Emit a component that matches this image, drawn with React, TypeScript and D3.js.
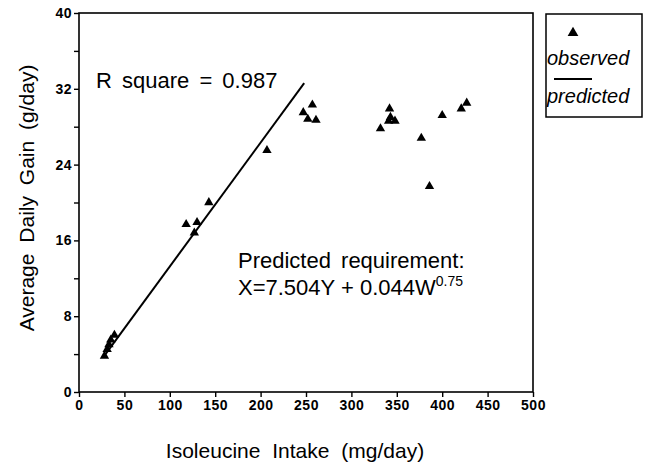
import { useEffect, useRef } from 'react';
import * as d3 from 'd3';

// observed points
const observedIntake = [28, 31, 33, 35, 39, 118, 127, 130, 143, 207, 247, 252, 257, 261, 332, 341, 343, 342, 348, 377, 386, 400, 421, 427];
const observedGain = [3.8, 4.5, 5.0, 5.5, 6.0, 17.7, 16.8, 17.9, 20.0, 25.5, 29.5, 28.8, 30.3, 28.7, 27.8, 28.6, 29.0, 29.9, 28.6, 26.8, 21.7, 29.2, 29.9, 30.5];

// fitted line end points
const predictedIntake = [27, 248];
const predictedGain = [3.7, 32.6];

const xTicks = [0, 50, 100, 150, 200, 250, 300, 350, 400, 450, 500];
const yTicks = [0, 4, 8, 12, 16, 20, 24, 28, 32, 36, 40];
const yLabelled = [0, 8, 16, 24, 32, 40];

function drawChart(node) {
  const width = 648;
  const height = 465;
  const left = 79, right = 533, top = 13, bottom = 392;
  const font = "'Liberation Sans', Arial, sans-serif";

  const x = d3.scaleLinear().domain([0, 500]).range([left, right]);
  const y = d3.scaleLinear().domain([0, 40]).range([bottom, top]);

  const svg = d3.select(node)
    .attr("width", width)
    .attr("height", height)
    .style("font-family", font);

  svg.selectAll("*").remove();

  svg.append("rect").attr("width", width).attr("height", height).attr("fill", "white");

  // frame
  svg.append("rect")
    .attr("x", left).attr("y", top)
    .attr("width", right - left).attr("height", bottom - top)
    .attr("fill", "none").attr("stroke", "black").attr("stroke-width", 1.6);

  const xAxis = svg.append("g")
    .attr("transform", `translate(0,${bottom})`)
    .call(d3.axisBottom(x).tickValues(xTicks).tickSize(5).tickPadding(3).tickFormat(d3.format("d")));
  xAxis.select(".domain").remove();
  xAxis.selectAll("line").attr("stroke-width", 1.4);
  xAxis.selectAll("text")
    .attr("font-size", 14).attr("font-weight", "bold").attr("font-family", font)
    .attr("letter-spacing", 0.5);

  const yAxis = svg.append("g")
    .attr("transform", `translate(${left},0)`)
    .call(d3.axisLeft(y).tickValues(yTicks).tickSize(5).tickPadding(2)
      .tickFormat(d => yLabelled.includes(d) ? String(d) : ""));
  yAxis.select(".domain").remove();
  yAxis.selectAll("line").attr("stroke-width", 1.4);
  yAxis.selectAll("text")
    .attr("font-size", 14).attr("font-weight", "bold").attr("font-family", font)
    .attr("letter-spacing", 0.5);

  // predicted line
  const line = d3.line().x(d => x(d[0])).y(d => y(d[1]));
  svg.append("path")
    .datum(d3.zip(predictedIntake, predictedGain))
    .attr("d", line)
    .attr("fill", "none").attr("stroke", "black").attr("stroke-width", 2);

  // observed points
  const tri = d3.symbol().type(d3.symbolTriangle).size(38);
  svg.append("g")
    .selectAll("path")
    .data(d3.zip(observedIntake, observedGain))
    .join("path")
    .attr("transform", d => `translate(${x(d[0])},${y(d[1])})`)
    .attr("d", tri)
    .attr("fill", "black");

  // annotations
  svg.append("text")
    .attr("x", 96).attr("y", 88)
    .attr("font-size", 22).attr("word-spacing", 4)
    .text("R square = 0.987");

  svg.append("text")
    .attr("x", 238).attr("y", 268)
    .attr("font-size", 22).attr("word-spacing", 4)
    .text("Predicted requirement:");

  const eq = svg.append("text")
    .attr("x", 238).attr("y", 295)
    .attr("font-size", 22);
  eq.append("tspan").text("X=7.504Y + 0.044W");
  eq.append("tspan").attr("dy", -9).attr("font-size", 14).text("0.75");

  // axis titles
  svg.append("text")
    .attr("x", 295).attr("y", 458)
    .attr("text-anchor", "middle")
    .attr("font-size", 21).attr("word-spacing", 6)
    .text("Isoleucine Intake (mg/day)");

  svg.append("text")
    .attr("transform", "translate(34,198) rotate(-90)")
    .attr("text-anchor", "middle")
    .attr("font-size", 21).attr("word-spacing", 5)
    .text("Average Daily Gain (g/day)");

  // legend
  const legend = svg.append("g");
  legend.append("rect")
    .attr("x", 546).attr("y", 14).attr("width", 96).attr("height", 103)
    .attr("fill", "none").attr("stroke", "black").attr("stroke-width", 1.5);
  legend.append("path")
    .attr("transform", "translate(573,33)")
    .attr("d", d3.symbol().type(d3.symbolTriangle).size(50))
    .attr("fill", "black");
  legend.append("text")
    .attr("x", 547).attr("y", 65)
    .attr("font-size", 20).attr("font-style", "italic")
    .text("observed");
  legend.append("line")
    .attr("x1", 554).attr("x2", 592).attr("y1", 79).attr("y2", 79)
    .attr("stroke", "black").attr("stroke-width", 2);
  legend.append("text")
    .attr("x", 547).attr("y", 103)
    .attr("font-size", 20).attr("font-style", "italic")
    .text("predicted");
}

export default function App() {
  const ref = useRef(null);

  useEffect(() => {
    if (ref.current) drawChart(ref.current);
  }, []);

  return (
    <svg ref={ref} style={{ position: "absolute", left: 0, top: 0, display: "block" }} />
  );
}
